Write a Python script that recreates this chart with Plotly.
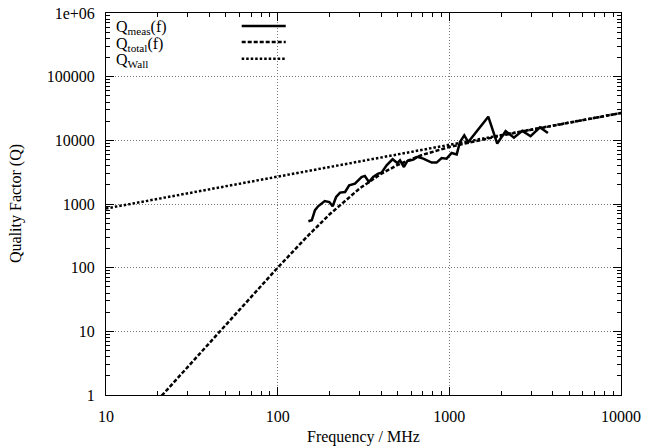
import plotly.graph_objects as go

f_meas = [151, 158, 165, 172, 188, 200, 209, 219, 231, 247, 261, 282, 308, 322, 340, 360,
          385, 403, 431, 467, 498, 516, 544, 569, 617, 651, 705, 789, 843, 902, 964, 1031,
          1104, 1153, 1222, 1289, 1686, 1901, 2128, 2378, 2660, 2974, 3370, 3750]
q_meas = [535, 555, 800, 920, 1115, 1075, 920, 1290, 1510, 1545, 1970, 2090, 2650, 2760, 2220, 2650,
          3000, 3110, 4060, 5040, 4400, 4850, 3810, 4730, 4980, 5500, 5160, 4470, 4470, 5280, 5160, 6330,
          6020, 9400, 11980, 9400, 23500, 8900, 14000, 11000, 14100, 11600, 16000, 13000]

# Total Q curve
f_total = [20, 30, 40, 50, 70, 100, 150, 200, 300, 400, 500, 700, 1000, 1500, 2000, 3000, 5000, 10000]
q_total = [0.83, 2.8, 6.63, 12.9, 35.1, 100, 317, 683, 1752, 2974, 4110, 5930, 7858, 10111, 11850,
           14646, 18979, 26873]

# Wall-loss Q (straight line in log-log)
f_wall = [10, 10000]
q_wall = [850, 26900]

x_tickvals = [10, 100, 1000, 10000]
x_ticktext = ["10", "100", "1000", "10000"]
y_tickvals = [1, 10, 100, 1000, 10000, 100000, 1000000]
y_ticktext = ["1", "10", "100", "1000", "10000", "100000", "1e+06"]

x_minor = [m * d for d in (10, 100, 1000) for m in range(2, 10)]
y_minor = [m * d for d in (1, 10, 100, 1000, 10000, 100000) for m in range(2, 10)]

FONT = "Liberation Serif"
FS = 16

fig = go.Figure()
fig.add_trace(go.Scatter(x=f_meas, y=q_meas, mode="lines",
                         line=dict(color="black", width=2.5), showlegend=False))
fig.add_trace(go.Scatter(x=f_total, y=q_total, mode="lines",
                         line=dict(color="black", width=2.5, dash="4px,2px"), showlegend=False))
fig.add_trace(go.Scatter(x=f_wall, y=q_wall, mode="lines",
                         line=dict(color="black", width=2.5, dash="2.5px,2px"), showlegend=False))

axis_common = dict(
    type="log", showline=True, linecolor="black", linewidth=1, mirror="allticks",
    ticks="inside", ticklen=8, tickcolor="black", tickwidth=1,
    showgrid=True, gridcolor="#777777", gridwidth=1, griddash="1px,2px",
    zeroline=False, automargin=False, ticklabelstandoff=7,
    tickfont=dict(family=FONT, size=FS, color="black"),
)

fig.update_xaxes(range=[1, 4], tickvals=x_tickvals, ticktext=x_ticktext,
                 minor=dict(tickvals=x_minor, ticks="inside", ticklen=4, tickcolor="black", showgrid=False),
                 **axis_common)
fig.update_yaxes(range=[0, 6], tickvals=y_tickvals, ticktext=y_ticktext,
                 minor=dict(tickvals=y_minor, ticks="inside", ticklen=4, tickcolor="black", showgrid=False),
                 **axis_common)

# Axis titles
fig.add_annotation(xref="paper", yref="paper", x=0.5, y=0, yshift=-42, text="Frequency / MHz",
                   showarrow=False, xanchor="center", yanchor="middle",
                   font=dict(family=FONT, size=FS, color="black"))
fig.add_annotation(xref="paper", yref="paper", x=0, y=0.5, xshift=-90, text="Quality Factor (Q)",
                   showarrow=False, textangle=-90, xanchor="center", yanchor="middle",
                   font=dict(family=FONT, size=FS, color="black"))

# Legend drawn gnuplot-style: text left, sample right
legend_items = [("Q<sub>meas</sub>(f)", None), ("Q<sub>total</sub>(f)", "4px,2px"), ("Q<sub>Wall</sub>", "2.5px,2px")]
ys = [0.966, 0.924, 0.880]
for (label, dash), yy in zip(legend_items, ys):
    fig.add_annotation(xref="paper", yref="paper", x=0.0, y=yy, text=label, showarrow=False,
                       xanchor="left", yanchor="middle", xshift=8, yshift=-2,
                       font=dict(family=FONT, size=FS, color="black"))
    ln = dict(color="black", width=2.5)
    if dash:
        ln["dash"] = dash
    fig.add_shape(type="line", xref="paper", yref="paper", x0=0.2635, x1=0.349, y0=yy, y1=yy, line=ln)

fig.update_layout(
    width=656, height=448,
    margin=dict(l=106, r=35, t=13, b=53),
    plot_bgcolor="white", paper_bgcolor="white",
    font=dict(family=FONT, size=FS, color="black"),
)

fig.write_html("out.html", config={"displayModeBar": False},
               post_script="document.body.style.margin='0';document.body.style.overflow='hidden';")
